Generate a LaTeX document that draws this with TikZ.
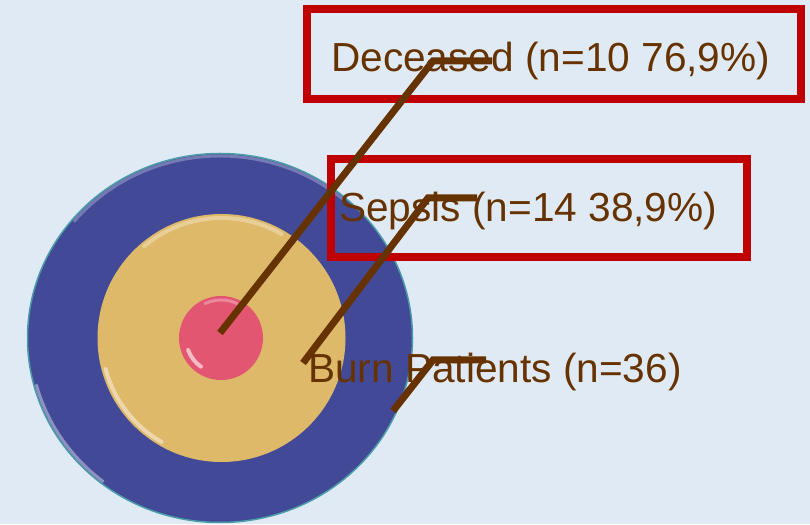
\documentclass[tikz,border=0pt]{standalone}
\usepackage{fontspec}
\setmainfont{Liberation Sans}
\usetikzlibrary{shapes.geometric}
\definecolor{bgc}{HTML}{E0EAF5}
\definecolor{ringblue}{HTML}{424A98}
\definecolor{ringrim}{HTML}{4A9DA8}
\definecolor{ringgold}{HTML}{DFB96A}
\definecolor{corepink}{HTML}{E35672}
\definecolor{brownc}{HTML}{663300}
\definecolor{redc}{HTML}{C00000}
\tikzset{
  lbl/.style={text=brownc, inner sep=0pt, anchor=base west, font=\fontsize{40.6}{48}\selectfont},
  leader/.style={draw=brownc, line width=7pt},
  redbox/.style={draw=redc, line width=7.5pt, rectangle, inner sep=0pt},
  shine/.style={line width=3pt, line cap=round}
}
\begin{document}
\begin{tikzpicture}[x=1pt,y=1pt]
\fill[bgc] (0,0) rectangle (810,524);
\useasboundingbox (0,0) rectangle (810,524);
% target rings
\node[ellipse, fill=ringblue, draw=ringrim, line width=1.5pt, minimum width=385pt, minimum height=369pt, inner sep=0pt] (outer) at (220,186) {};
\draw[shine, color=white!45!ringblue, opacity=0.6] (220,186) ++(50:190 and 182) arc[start angle=50, end angle=140, x radius=190, y radius=182];
\draw[shine, color=white, opacity=0.4] (220,186) ++(195:190 and 182) arc[start angle=195, end angle=232, x radius=190, y radius=182];
\node[circle, fill=ringgold, minimum size=248pt, inner sep=0pt] (middle) at (221.5,186) {};
\draw[shine, line width=4pt, color=white!50!ringgold, opacity=0.6] (221.5,186) ++(60:120) arc[start angle=60, end angle=130, radius=120];
\draw[shine, line width=4pt, color=white, opacity=0.45] (221.5,186) ++(195:120) arc[start angle=195, end angle=240, radius=120];
\node[circle, fill=corepink, minimum size=84pt, inner sep=0pt] (inner) at (221,186) {};
\draw[shine, color=white!50!corepink, opacity=0.6] (221,186) ++(65:38) arc[start angle=65, end angle=115, radius=38];
\draw[shine, line width=4pt, color=white, opacity=0.6] (221,186) ++(200:35) arc[start angle=200, end angle=235, radius=35];
% labels
\node[lbl] (dec) at (331,452) {Deceased (n=10 76,9\%)};
\node[lbl] (sep) at (339,302) {Sepsis (n=14 38,9\%)};
\node[lbl] (burn) at (308,141) {Burn Patients (n=36)};
% red frames
\node[redbox, minimum width=494pt, minimum height=90pt] (box1) at (554,470) {};
\node[redbox, minimum width=416pt, minimum height=98pt] (box2) at (539,316) {};
% leader lines
\coordinate (d0) at (220,191);
\coordinate (d1) at (433,463);
\coordinate (d2) at (492,463);
\coordinate (s0) at (303,161);
\coordinate (s1) at (428,326);
\coordinate (s2) at (477,326);
\coordinate (b0) at (393,113);
\coordinate (b1) at (433,164);
\coordinate (b2) at (486,164);
\draw[leader] (d0) -- (d1) -- (d2);
\draw[leader] (s0) -- (s1) -- (s2);
\draw[leader] (b0) -- (b1) -- (b2);
\end{tikzpicture}
\end{document}
